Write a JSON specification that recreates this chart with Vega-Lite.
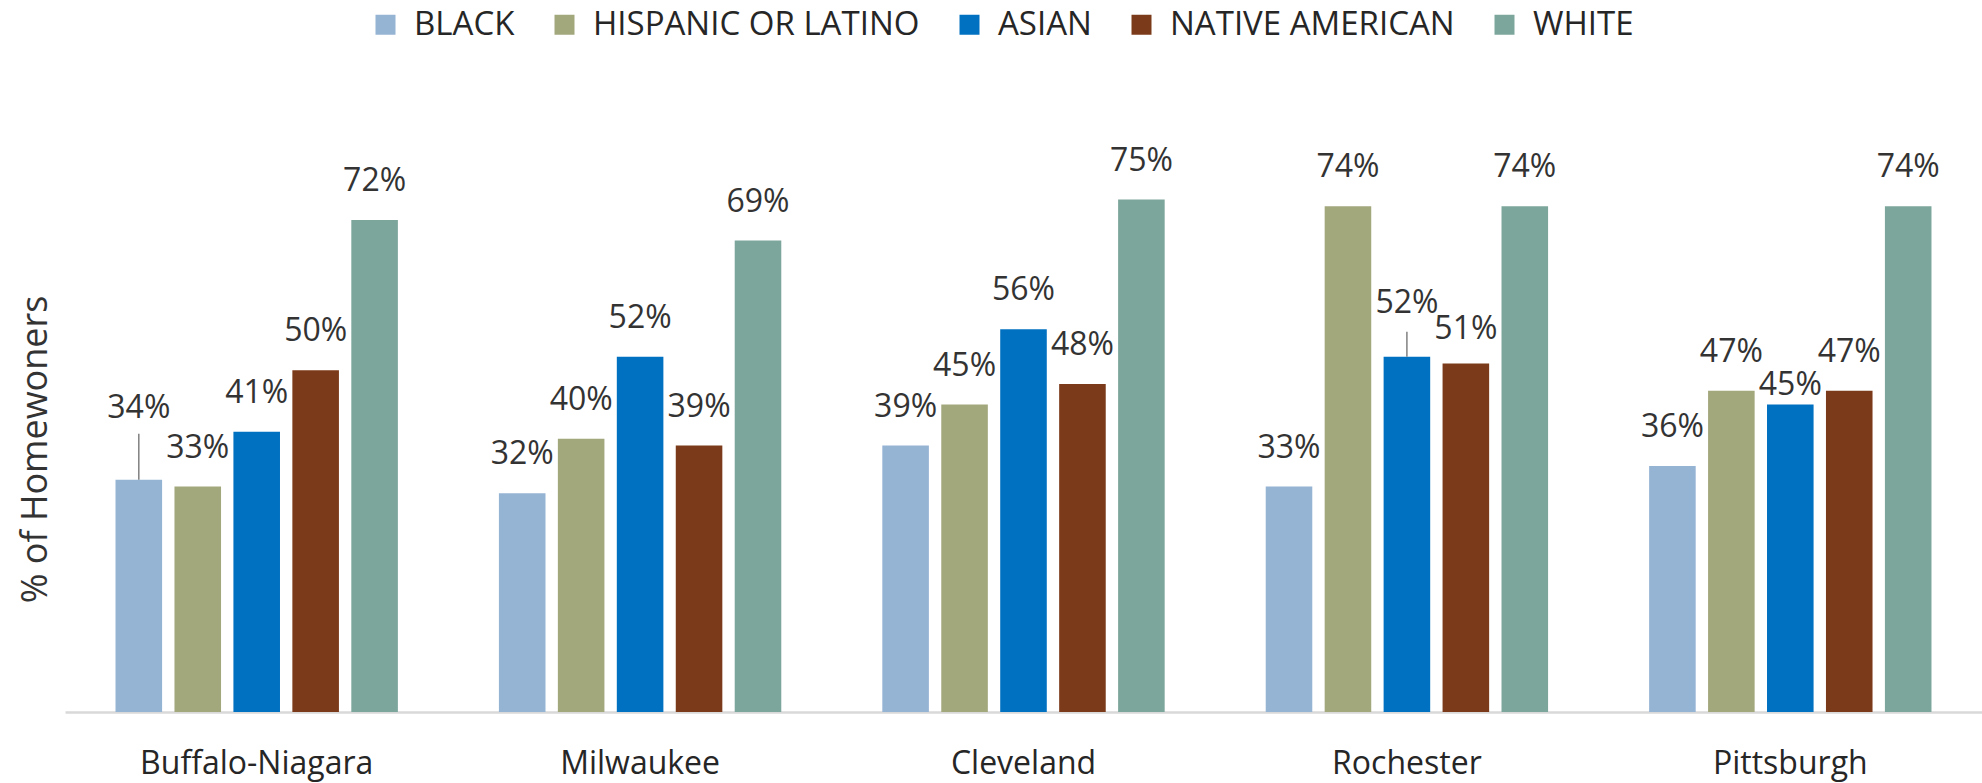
{
  "$schema": "https://vega.github.io/schema/vega-lite/v6.json",
  "width": 1917,
  "height": 615,
  "autosize": {"type": "none"},
  "padding": {"left": 65, "top": 97, "right": 0, "bottom": 71},
  "background": "white",
  "config": {"view": {"stroke": null}, "font": "Open Sans"},
  "data": {
    "values": [
      {"metro": "Buffalo-Niagara", "race": "BLACK", "value": 0.34},
      {"metro": "Buffalo-Niagara", "race": "HISPANIC OR LATINO", "value": 0.33},
      {"metro": "Buffalo-Niagara", "race": "ASIAN", "value": 0.41},
      {"metro": "Buffalo-Niagara", "race": "NATIVE AMERICAN", "value": 0.50},
      {"metro": "Buffalo-Niagara", "race": "WHITE", "value": 0.72},
      {"metro": "Milwaukee", "race": "BLACK", "value": 0.32},
      {"metro": "Milwaukee", "race": "HISPANIC OR LATINO", "value": 0.40},
      {"metro": "Milwaukee", "race": "ASIAN", "value": 0.52},
      {"metro": "Milwaukee", "race": "NATIVE AMERICAN", "value": 0.39},
      {"metro": "Milwaukee", "race": "WHITE", "value": 0.69},
      {"metro": "Cleveland", "race": "BLACK", "value": 0.39},
      {"metro": "Cleveland", "race": "HISPANIC OR LATINO", "value": 0.45},
      {"metro": "Cleveland", "race": "ASIAN", "value": 0.56},
      {"metro": "Cleveland", "race": "NATIVE AMERICAN", "value": 0.48},
      {"metro": "Cleveland", "race": "WHITE", "value": 0.75},
      {"metro": "Rochester", "race": "BLACK", "value": 0.33},
      {"metro": "Rochester", "race": "HISPANIC OR LATINO", "value": 0.74},
      {"metro": "Rochester", "race": "ASIAN", "value": 0.52},
      {"metro": "Rochester", "race": "NATIVE AMERICAN", "value": 0.51},
      {"metro": "Rochester", "race": "WHITE", "value": 0.74},
      {"metro": "Pittsburgh", "race": "BLACK", "value": 0.36},
      {"metro": "Pittsburgh", "race": "HISPANIC OR LATINO", "value": 0.47},
      {"metro": "Pittsburgh", "race": "ASIAN", "value": 0.45},
      {"metro": "Pittsburgh", "race": "NATIVE AMERICAN", "value": 0.47},
      {"metro": "Pittsburgh", "race": "WHITE", "value": 0.74}
    ]
  },
  "encoding": {
    "x": {
      "field": "metro",
      "type": "nominal",
      "sort": ["Buffalo-Niagara", "Milwaukee", "Cleveland", "Rochester", "Pittsburgh"],
      "scale": {"paddingInner": 0, "paddingOuter": 0},
      "axis": {
        "title": null,
        "domain": true,
        "domainColor": "#d9d9d9",
        "domainWidth": 2.5,
        "ticks": false,
        "tickSize": 0,
        "grid": false,
        "labelAngle": 0,
        "labelLimit": 0,
        "labelFont": "Open Sans",
        "labelFontSize": 32,
        "labelColor": "#262626",
        "labelPadding": 36
      }
    },
    "xOffset": {
      "field": "race",
      "type": "nominal",
      "sort": ["BLACK", "HISPANIC OR LATINO", "ASIAN", "NATIVE AMERICAN", "WHITE"],
      "scale": {"paddingInner": 0.21, "paddingOuter": 0.857}
    },
    "y": {
      "field": "value",
      "type": "quantitative",
      "scale": {"domain": [0, 0.9], "nice": false},
      "axis": {
        "title": "% of Homewoners",
        "labels": false,
        "ticks": false,
        "domain": false,
        "grid": false,
        "titleFont": "Open Sans",
        "titleFontSize": 36,
        "titleFontWeight": "normal",
        "titleColor": "#333333",
        "titleAngle": -90,
        "titleX": -30,
        "titleY": 352,
        "titleAlign": "center",
        "titleBaseline": "middle"
      }
    }
  },
  "layer": [
    {
      "mark": {"type": "bar"},
      "encoding": {
        "color": {
          "field": "race",
          "type": "nominal",
          "scale": {
            "domain": ["BLACK", "HISPANIC OR LATINO", "ASIAN", "NATIVE AMERICAN", "WHITE"],
            "range": ["#95b3d3", "#a3a77c", "#0070c0", "#7b3a19", "#7ca69b"]
          },
          "legend": {
            "title": null,
            "orient": "none",
            "legendX": 304,
            "legendY": -89,
            "direction": "horizontal",
            "columns": 5,
            "symbolType": "square",
            "symbolSize": 400,
            "symbolStrokeWidth": 0,
            "labelFont": "Open Sans",
            "labelFontSize": 33,
            "labelColor": "#262626",
            "labelOffset": 12,
            "labelLimit": 0,
            "columnPadding": 33,
            "padding": 0
          }
        }
      }
    },
    {
      "transform": [{"filter": "!((datum.metro == 'Buffalo-Niagara' && datum.race == 'BLACK') || (datum.metro == 'Rochester' && (datum.race == 'ASIAN' || datum.race == 'NATIVE AMERICAN')) || (datum.metro == 'Pittsburgh' && datum.race == 'ASIAN'))"}],
      "mark": {"type": "text", "baseline": "alphabetic", "dy": -29, "font": "Open Sans", "fontSize": 32, "color": "#333333"},
      "encoding": {"text": {"field": "value", "type": "quantitative", "format": ".0%"}}
    },
    {
      "transform": [{"filter": "datum.metro == 'Buffalo-Niagara' && datum.race == 'BLACK'"}],
      "mark": {"type": "text", "baseline": "alphabetic", "dy": -62, "font": "Open Sans", "fontSize": 32, "color": "#333333"},
      "encoding": {"text": {"field": "value", "type": "quantitative", "format": ".0%"}}
    },
    {
      "transform": [{"filter": "datum.metro == 'Rochester' && datum.race == 'ASIAN'"}],
      "mark": {"type": "text", "baseline": "alphabetic", "dy": -44, "font": "Open Sans", "fontSize": 32, "color": "#333333"},
      "encoding": {"text": {"field": "value", "type": "quantitative", "format": ".0%"}}
    },
    {
      "transform": [{"filter": "datum.metro == 'Rochester' && datum.race == 'NATIVE AMERICAN'"}],
      "mark": {"type": "text", "baseline": "alphabetic", "dy": -25, "font": "Open Sans", "fontSize": 32, "color": "#333333"},
      "encoding": {"text": {"field": "value", "type": "quantitative", "format": ".0%"}}
    },
    {
      "transform": [{"filter": "datum.metro == 'Pittsburgh' && datum.race == 'ASIAN'"}],
      "mark": {"type": "text", "baseline": "alphabetic", "dy": -10, "font": "Open Sans", "fontSize": 32, "color": "#333333"},
      "encoding": {"text": {"field": "value", "type": "quantitative", "format": ".0%"}}
    },
    {
      "transform": [{"filter": "datum.metro == 'Buffalo-Niagara' && datum.race == 'BLACK'"}],
      "mark": {"type": "rule", "color": "#808080", "strokeWidth": 1.5, "y2Offset": -46},
      "encoding": {"y2": {"field": "value"}}
    },
    {
      "transform": [{"filter": "datum.metro == 'Rochester' && datum.race == 'ASIAN'"}],
      "mark": {"type": "rule", "color": "#808080", "strokeWidth": 1.5, "y2Offset": -25},
      "encoding": {"y2": {"field": "value"}}
    }
  ]
}
